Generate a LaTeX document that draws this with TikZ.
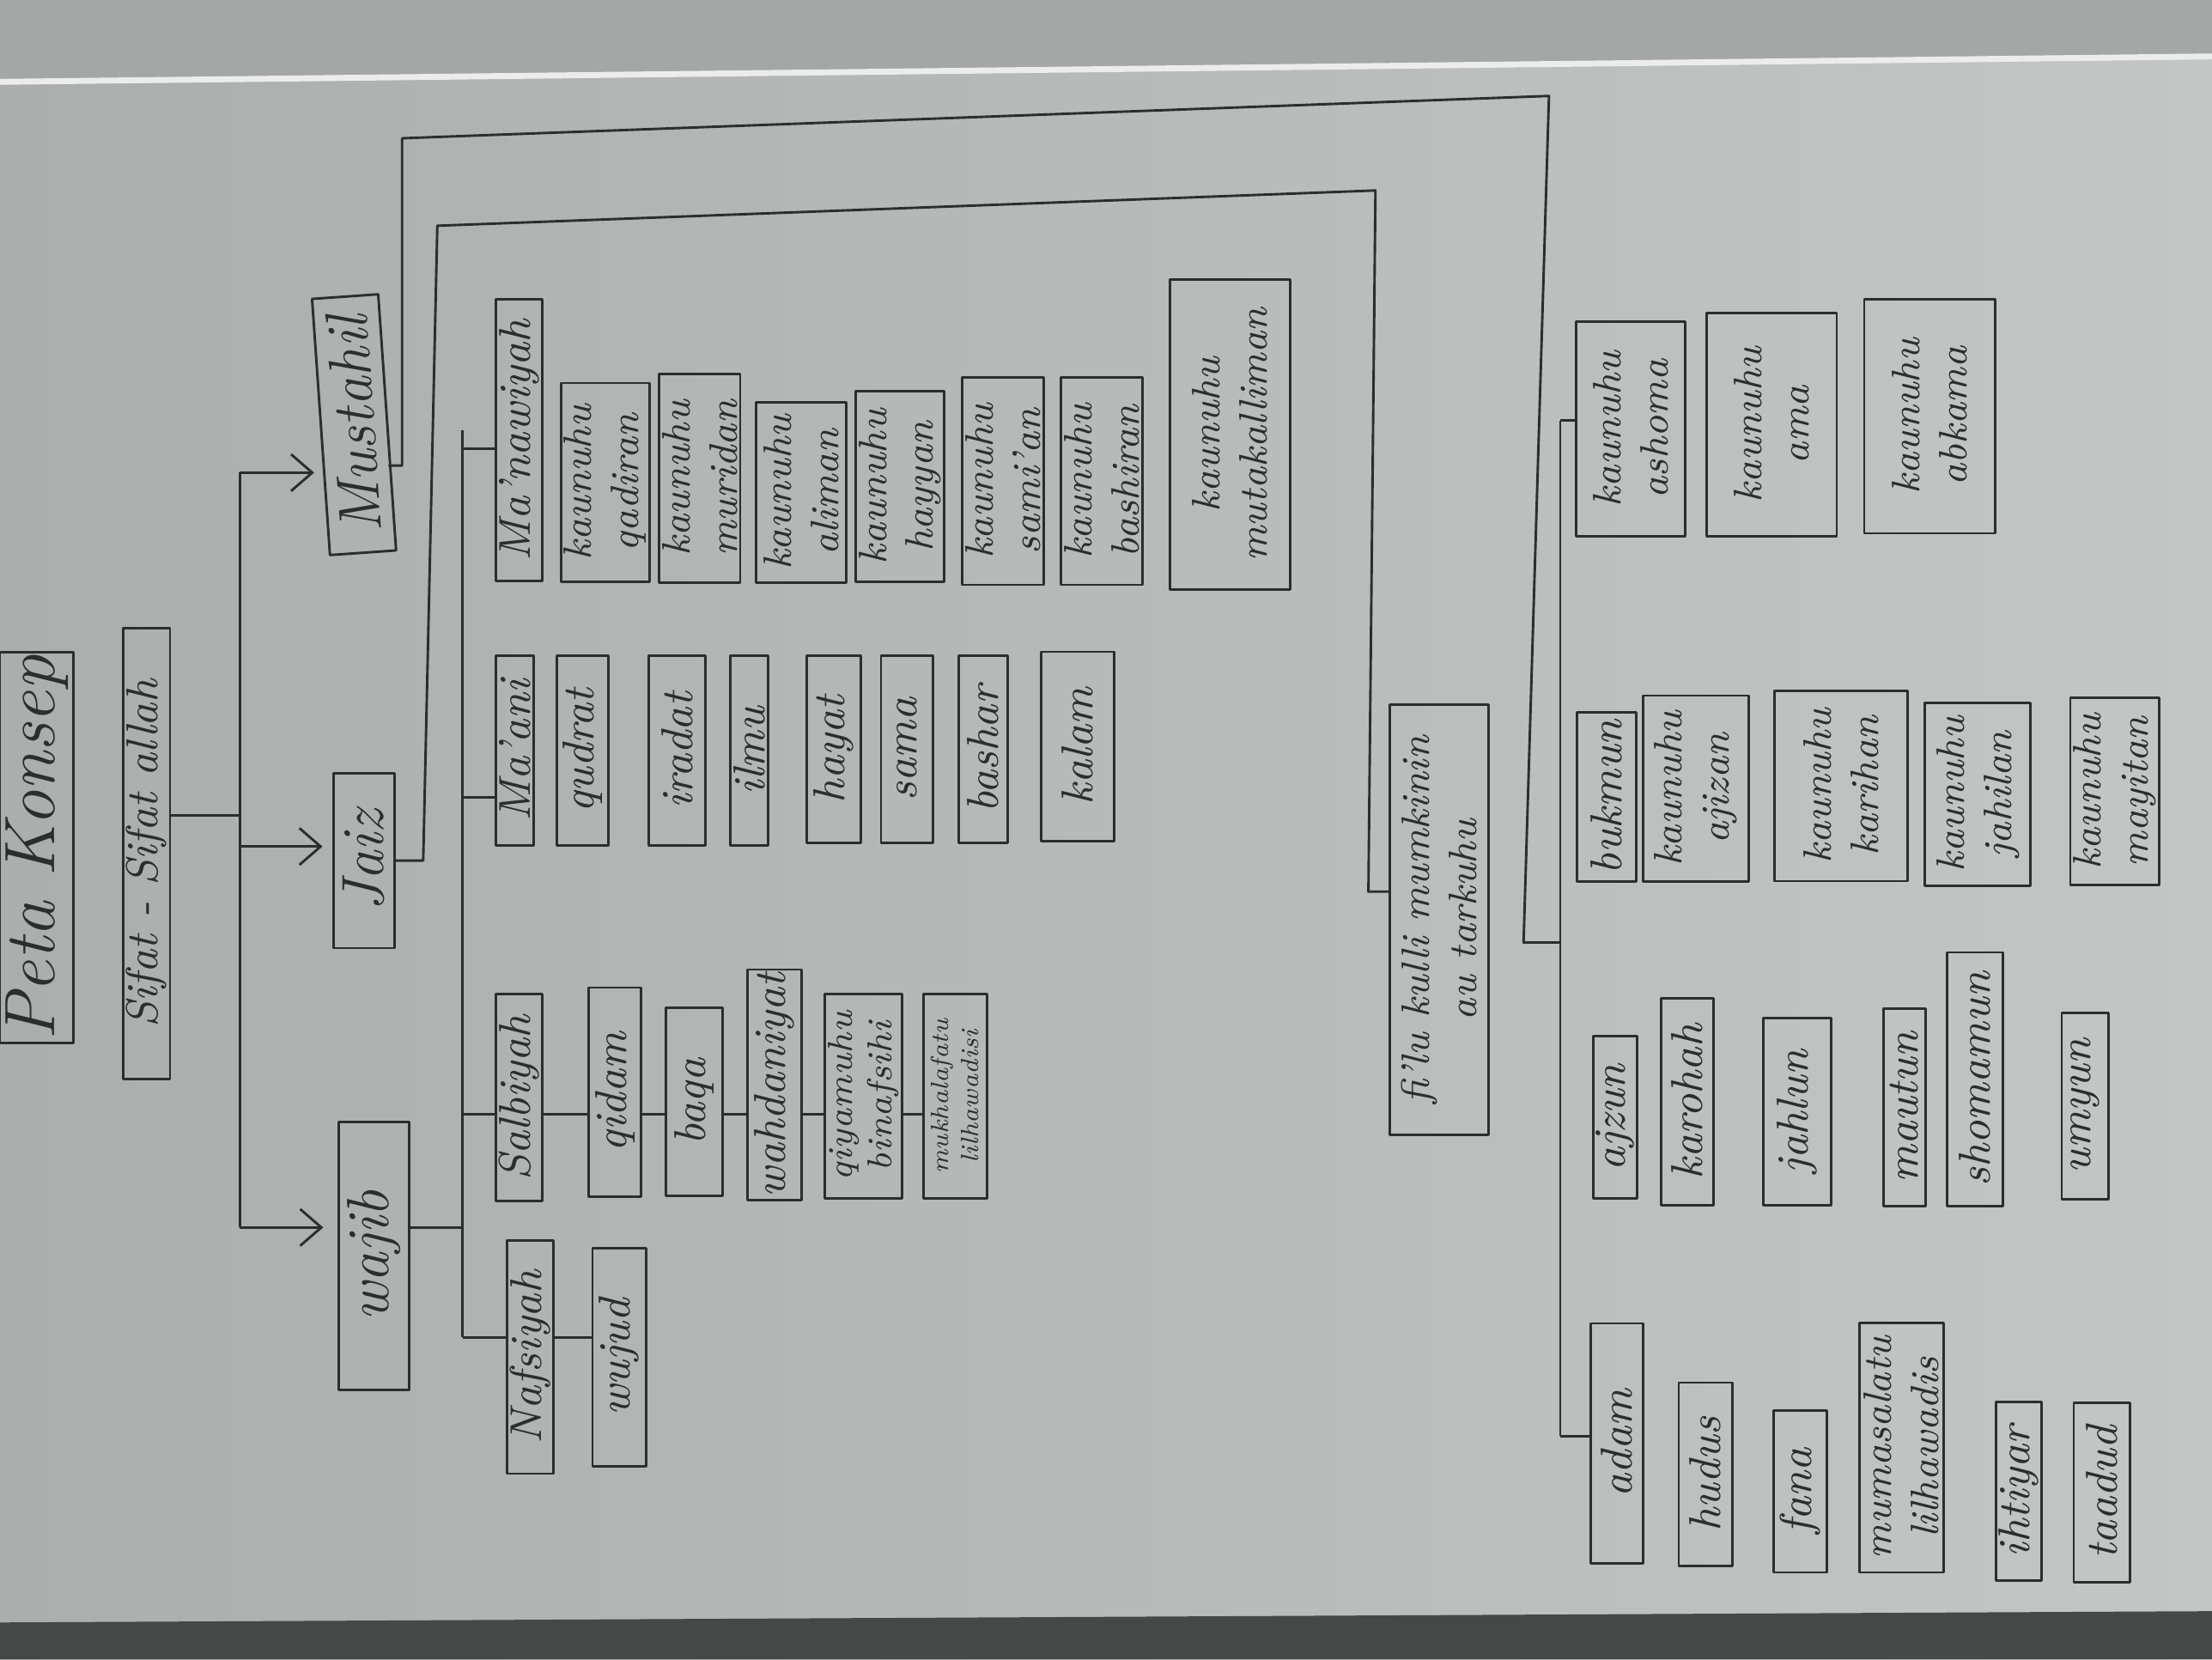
\documentclass[tikz,border=0pt]{standalone}
\usepackage{tikz}
\usetikzlibrary{arrows.meta}
\definecolor{tinta}{HTML}{2C2D2D}
\definecolor{kertasL}{HTML}{AAAEAD}
\definecolor{kertasR}{HTML}{C2C6C5}
\definecolor{atas}{HTML}{A3A7A6}
\definecolor{gelap}{HTML}{464848}

\begin{document}
\begin{tikzpicture}[x=0.1mm, y=-0.1mm, line join=round,
  every node/.style={text=tinta},
  kotak/.style={draw=tinta, line width=0.5pt, rotate=90, align=center, inner sep=0.6pt, font=\itshape\small},
  dua/.style={font=\itshape\footnotesize},
  garis/.style={draw=tinta, line width=0.5pt},
  panah/.style={garis, -{Straight Barb[length=1.5mm, width=2.6mm]}}]

% kertas
\useasboundingbox (0,0) rectangle (1568,1176);
\shade[left color=kertasL, right color=kertasR] (0,0) rectangle (1568,1176);
\fill[atas] (0,0) -- (1568,0) -- (1568,40) -- (0,58) -- cycle;
\draw[white!85!gray, line width=1.2pt] (0,58) -- (1568,40);
\fill[gelap] (0,1150) -- (1568,1142) -- (1568,1176) -- (0,1176) -- cycle;

% kepala
\node[kotak, font=\itshape\Large, minimum width=27.3mm, minimum height=5.2mm] (peta) at (26,601) {Peta Konsep};
\node[kotak, minimum width=32mm, minimum height=3.2mm] (sifat) at (104,605) {Sifat - Sifat allah};
\node[kotak, rotate=4, font=\itshape\large, minimum width=18.2mm, minimum height=4.7mm] (must) at (251,301) {Mustahil};
\node[kotak, font=\itshape\large, minimum width=12.4mm, minimum height=4.3mm] (jaiz) at (258,610) {Jaiz};
\node[kotak, font=\itshape\large, minimum width=19mm, minimum height=5mm] (wajib) at (265,890) {wajib};

% kotak satu baris
\foreach \nm/\px/\py/\lb/\tg/\teks in {
  nafs/376/962/32/165/Nafsiyah, wujud/439/962/38/155/wujud,
  salb/368/778/33/147/Salbiyah, qidam/436/774/37/148/qidam,
  baqa/492/781/40/133/baqa, wahd/549/769/38/158/wahdaniyat,
  maani/365/532/26/135/Ma'ani, qudrat/413/532/37/135/qudrat,
  iradat/480/532/40/135/iradat, ilmu/531/532/27/135/ilmu,
  hayat/591/531/38/133/hayat, sama/643/531/37/133/sama,
  bashar/697/531/35/133/bashar, kalam/764/529/52/134/kalam,
  manaw/368/312/33/200/Ma'nawiyah,
  adam/1146/1023/37/170/adam, hudus/1209/1045/38/130/hudus,
  fana/1276/1057/38/115/fana, ihtiyar/1431/1057/24/127/ihtiyar,
  taadud/1490/1058/40/127/taadud,
  ajzun/1145/792/30/115/ajzun, karohah/1196/781/37/147/karohah,
  jahlun/1274/788/48/133/jahlun, mautun/1350/785/30/140/mautun,
  shomamun/1400/765/40/180/shomamun, umyun/1478/784/33/132/umyun,
  bukmun/1139/565/42/120/bukmun}
  \node[kotak, minimum width=0.1mm*\tg, minimum height=0.1mm*\lb] (\nm) at (\px,\py) {\teks};

% kotak dua baris
\foreach \nm/\px/\py/\lb/\tg/\teks in {
  kq/429/342/62/141/{kaunuhu\\qadiran}, km/496/339/48/148/{kaunuhu\\muridan},
  ka/568/349/64/128/{kaunuhu\\aliman}, kh/638/345/53/135/{kaunuhu\\hayyan},
  ks/711/341/53/147/{kaunuhu\\sami'an}, kb/781/341/58/147/{kaunuhu\\bashiran},
  kmt/872/308/85/220/{kaunuhu\\mutakalliman},
  fil/1020/652/70/305/{fi'lu kulli mumkinin\\au tarkuhu},
  mumas/1348/1026/60/177/{mumasalatu\\lilhawadis},
  kajizan/1202/559/75/132/{kaunuhu\\ajizan}, kkarihan/1305/557/94/135/{kaunuhu\\karihan},
  kjahilan/1402/563/75/130/{kaunuhu\\jahilan}, kmayitan/1499/561/62/133/{kaunuhu\\mayitan},
  kashoma/1156/304/77/152/{kaunuhu\\ashoma}, kama/1256/301/92/158/{kaunuhu\\ama},
  kabkama/1368/295/93/166/{kaunuhu\\abkama}}
  \node[kotak, dua, minimum width=0.1mm*\tg, minimum height=0.1mm*\lb] (\nm) at (\px,\py) {\teks};

\node[kotak, font=\itshape\scriptsize, minimum width=14.5mm, minimum height=5.5mm] (qiyam) at (612,777) {qiyamuhu\\binafsihi};
\node[kotak, font=\itshape\tiny, minimum width=14.5mm, minimum height=4.5mm] (mukh) at (677,777) {mukhalafatu\\lilhawadisi};

% dari sifat ke tiga cabang
\coordinate (cab) at (170,578);
\coordinate (cabM) at (170,335);
\coordinate (cabJ) at (170,600);
\coordinate (cabW) at (170,870);
\draw[garis] (sifat.south |- cab) -- (cab);
\draw[garis] (cabM) -- (cabW);
\draw[panah, shorten >=0.4mm] (cabM) -- (must.north |- cabM);
\draw[panah, shorten >=0.7mm] (cabJ) -- (jaiz.north |- cabJ);
\draw[panah, shorten >=1mm] (cabW) -- (wajib.north |- cabW);

% wajib
\coordinate (w1) at (328,870);
\draw[garis] (wajib.south |- w1) -- (w1);
\draw[garis] (328,305) -- (328,948);
\foreach \b/\yy in {manaw/318, maani/565, salb/790, nafs/948}
  \draw[garis] (328,\yy) -- (\b.north |- 0,\yy);
\draw[garis] (nafs.south |- 0,948) -- (wujud.north |- 0,948);
\foreach \a/\b in {salb/qidam, qidam/baqa, baqa/wahd, wahd/qiyam, qiyam/mukh}
  \draw[garis] (\a.south |- 0,790) -- (\b.north |- 0,790);

% jaiz
\coordinate (j1) at (300,610);
\coordinate (j2) at (310,160);
\coordinate (j3) at (975,135);
\coordinate (j4) at (970,632);
\draw[garis] (jaiz.south |- j1) -- (j1) -- (j2) -- (j3) -- (j4) -- (fil.north |- j4);

% mustahil
\coordinate (m1) at (285,330);
\coordinate (m2) at (285,98);
\coordinate (m3) at (1098,68);
\coordinate (m4) at (1080,668);
\coordinate (m5) at (1106,668);
\coordinate (mt1) at (1106,298);
\coordinate (mt2) at (1106,1018);
\draw[garis] (must.south |- m1) -- (m1) -- (m2) -- (m3) -- (m4) -- (m5);
\draw[garis] (mt1) -- (mt2);
\draw[garis] (mt1) -- (kashoma.north |- mt1);
\draw[garis] (mt2) -- (adam.north |- mt2);
\end{tikzpicture}
\end{document}
